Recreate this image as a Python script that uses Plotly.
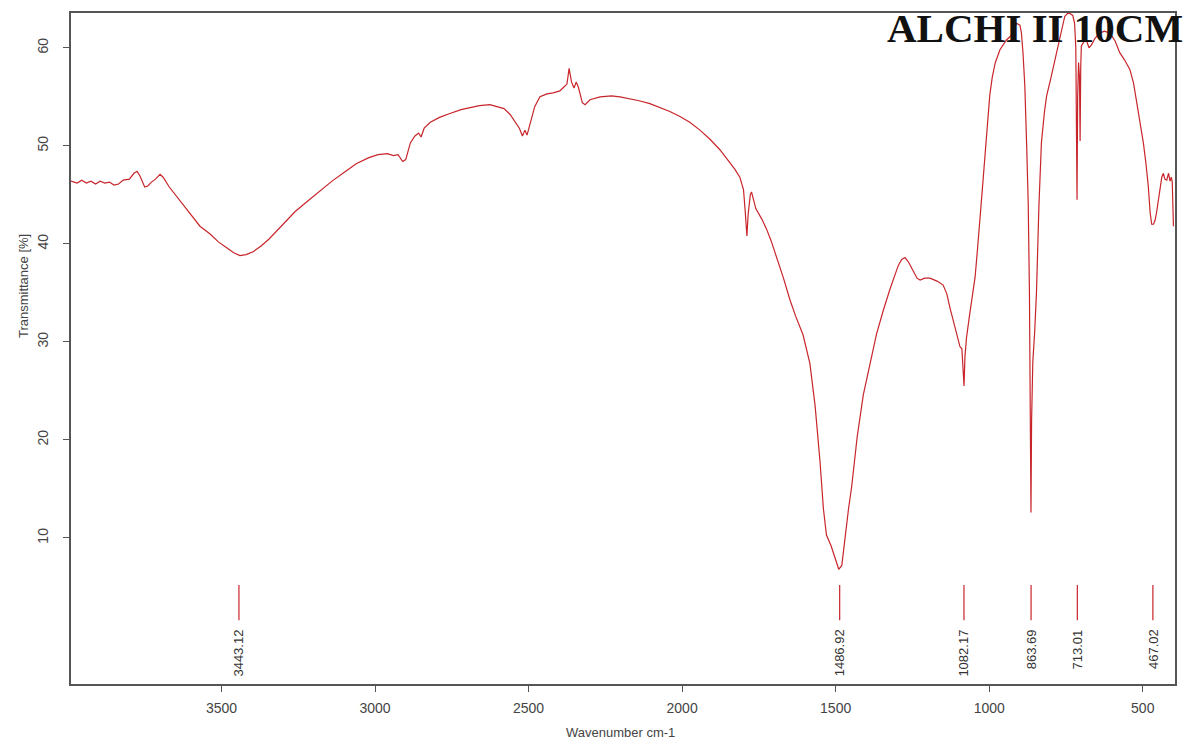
import plotly.graph_objects as go

# ---------------- data ----------------
wavenumber = [
    3990, 3970, 3955, 3940, 3925, 3910, 3895, 3880, 3865, 3850, 3835, 3820, 3800, 3785, 3775, 3765,
    3750, 3740, 3728, 3715, 3700, 3690, 3670, 3650, 3630, 3613, 3590, 3570, 3537, 3510, 3483, 3460,
    3440, 3420, 3397, 3370, 3345, 3320, 3290, 3260, 3218, 3180, 3140, 3100, 3060, 3020, 2990, 2960,
    2940, 2925, 2910, 2900, 2885, 2870, 2858, 2850, 2840, 2820, 2790, 2756, 2720, 2690, 2660, 2626,
    2600, 2580, 2560, 2545, 2530, 2520, 2512, 2505, 2495, 2480, 2463, 2440, 2420, 2398, 2385, 2375,
    2368, 2360, 2352, 2345, 2338, 2325, 2316, 2300, 2267, 2230, 2202, 2170, 2140, 2105, 2070, 2040,
    2007, 1975, 1942, 1910, 1877, 1850, 1828, 1812, 1800, 1795, 1789, 1785, 1778, 1774, 1760, 1740,
    1725, 1710, 1693, 1670, 1649, 1630, 1606, 1584, 1567, 1551, 1540, 1530, 1515, 1500, 1490, 1480,
    1468, 1458, 1448, 1430, 1410, 1390, 1367, 1345, 1323, 1296, 1285, 1274, 1262, 1247, 1235, 1225,
    1210, 1193, 1170, 1150, 1138, 1128, 1118, 1105, 1095, 1089, 1085, 1082, 1079, 1074, 1065, 1057,
    1046, 1038, 1030, 1020, 1013, 1005, 998, 990, 980, 965, 950, 944, 930, 920, 911, 900,
    895, 890, 884, 878, 873, 869, 866, 864, 862, 858, 852, 846, 838, 830, 820, 813,
    800, 793, 780, 771, 760, 754, 745, 737, 728, 722, 718, 716, 714, 712, 709, 706,
    704, 702, 700, 692, 684, 675, 667, 655, 640, 625, 607, 590, 575, 560, 542, 530,
    520, 508, 498, 490, 482, 476, 471, 465, 460, 455, 449, 444, 438, 433, 428, 422,
    416, 411, 407, 404, 402, 400,
]
transmittance = [
    46.4, 46.2, 46.5, 46.2, 46.4, 46.1, 46.4, 46.2, 46.3, 46.0, 46.1, 46.5, 46.6, 47.2, 47.4, 46.9,
    45.8, 45.9, 46.3, 46.6, 47.1, 46.8, 45.8, 45.0, 44.3, 43.6, 42.6, 41.8, 41.0, 40.2, 39.6, 39.1,
    38.8, 38.9, 39.2, 39.8, 40.5, 41.3, 42.3, 43.3, 44.4, 45.4, 46.4, 47.3, 48.2, 48.8, 49.1, 49.2,
    49.0, 49.1, 48.4, 48.6, 50.3, 51.0, 51.3, 50.9, 51.8, 52.4, 52.9, 53.3, 53.7, 53.9, 54.1, 54.2,
    54.0, 53.8, 53.2, 52.5, 51.8, 51.0, 51.6, 51.1, 52.2, 54.0, 55.0, 55.3, 55.4, 55.6, 56.0, 56.3,
    57.9, 56.5, 55.9, 56.5, 56.0, 54.4, 54.2, 54.7, 55.0, 55.1, 55.0, 54.8, 54.6, 54.3, 53.9, 53.5,
    53.0, 52.4, 51.6, 50.7, 49.6, 48.5, 47.6, 46.8, 45.5, 43.5, 40.8, 43.0, 45.0, 45.3, 43.6, 42.5,
    41.5, 40.3, 38.7, 36.5, 34.3, 32.6, 30.7, 27.8, 23.5, 17.8, 13.0, 10.3, 9.2, 7.8, 6.8, 7.2,
    10.5, 13.0, 15.2, 20.3, 24.6, 27.6, 30.8, 33.2, 35.4, 37.8, 38.4, 38.6, 38.1, 37.2, 36.5, 36.3,
    36.5, 36.5, 36.2, 35.8, 34.9, 33.5, 32.2, 30.5, 29.5, 29.3, 26.0, 25.5, 28.5, 30.4, 32.5, 34.3,
    36.6, 39.5, 43.0, 46.5, 49.3, 52.5, 55.2, 57.0, 58.5, 59.8, 60.5, 60.8, 61.2, 61.8, 62.5, 62.3,
    61.5, 59.5, 56.1, 50.0, 44.2, 35.0, 24.0, 12.6, 22.0, 28.0, 31.0, 35.1, 44.0, 50.3, 53.5, 55.1,
    56.8, 57.8, 59.6, 60.8, 62.5, 63.2, 63.5, 63.5, 63.3, 62.5, 60.0, 55.0, 44.5, 55.0, 58.5, 57.0,
    50.5, 58.0, 60.2, 60.6, 60.8, 60.0, 60.3, 61.0, 61.5, 61.7, 61.5, 60.7, 59.5, 58.8, 57.8, 56.4,
    54.4, 52.4, 50.3, 48.3, 45.9, 43.2, 42.0, 42.0, 42.4, 43.2, 44.6, 45.8, 46.8, 47.2, 46.6, 46.5,
    47.2, 46.4, 46.8, 46.3, 42.2, 41.8,
]
peak_positions = [3443.12, 1486.92, 1082.17, 863.69, 713.01, 467.02]
peak_labels = ["3443.12", "1486.92", "1082.17", "863.69", "713.01", "467.02"]
x_ticks = [3500, 3000, 2500, 2000, 1500, 1000, 500]
y_ticks = [10, 20, 30, 40, 50, 60]
title_text = "ALCHI II 10CM"

# ---------------- figure ----------------
RED = "#c8252b"
GRAY = "#555555"
SANS = "Liberation Sans, Arial, sans-serif"

fig = go.Figure()
fig.add_trace(go.Scatter(
    x=wavenumber, y=transmittance, mode="lines",
    line=dict(color=RED, width=1.2), hoverinfo="x+y", showlegend=False,
))

# peak marker ticks
mx, my = [], []
for p in peak_positions:
    mx += [p, p, None]
    my += [1.6, 5.2, None]
fig.add_trace(go.Scatter(
    x=mx, y=my, mode="lines", line=dict(color=RED, width=1.2),
    hoverinfo="skip", showlegend=False,
))

annotations = []
for p, lab in zip(peak_positions, peak_labels):
    annotations.append(dict(
        x=p, y=0.9, xref="x", yref="y", text=lab, showarrow=False,
        textangle=-90, xanchor="center", yanchor="top",
        font=dict(family=SANS, size=13, color="#333333"),
    ))

annotations.append(dict(
    x=1.0095, y=0.977, xref="paper", yref="paper", text="<b>" + title_text + "</b>",
    showarrow=False, xanchor="right", yanchor="middle",
    font=dict(family="Liberation Serif, Times New Roman, serif", size=41, color="#111111"),
))
annotations.append(dict(
    x=-0.0435, y=0.593, xref="paper", yref="paper", text="Transmittance [%]",
    showarrow=False, textangle=-90, xanchor="center", yanchor="middle",
    font=dict(family=SANS, size=13, color="#444444"),
))
annotations.append(dict(
    x=0.498, y=-0.0728, xref="paper", yref="paper", text="Wavenumber cm-1",
    showarrow=False, xanchor="center", yanchor="middle",
    font=dict(family=SANS, size=13, color="#444444"),
))

axis_common = dict(
    showgrid=False, zeroline=False, showline=True, mirror=True,
    linecolor=GRAY, linewidth=1.5, ticks="outside", ticklen=6,
    tickcolor=GRAY, tickwidth=1,
    tickfont=dict(family=SANS, size=14, color="#444444"),
)

fig.update_layout(
    width=1189, height=746,
    margin=dict(l=71, r=14, t=11, b=62),
    paper_bgcolor="white", plot_bgcolor="white",
    xaxis=dict(range=[3990, 395], tickvals=x_ticks, ticklabelstandoff=4, **axis_common),
    yaxis=dict(range=[-4.9, 63.55], tickvals=y_ticks, tickangle=-90,
               ticklabelstandoff=10, **axis_common),
    annotations=annotations,
    showlegend=False,
)

fig.write_html("out.html")
